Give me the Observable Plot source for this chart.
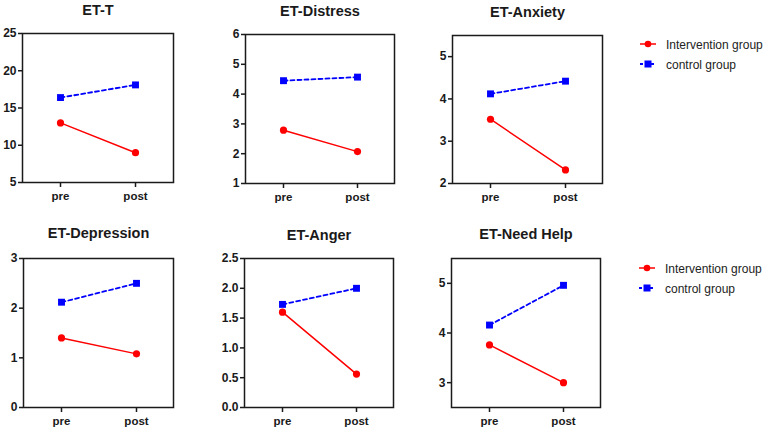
<!DOCTYPE html>
<html><head><meta charset="utf-8">
<script src="https://cdn.jsdelivr.net/npm/d3@7"></script>
<script src="https://cdn.jsdelivr.net/npm/@observablehq/plot@0.6"></script>
<style>
body{margin:0;background:#fff;font-family:Arial,"Liberation Sans",sans-serif}
#wrap{position:relative;width:767px;height:433px;overflow:hidden;background:#fff}
.panel{position:absolute}
.legend{position:absolute;font-size:12px;color:#222;font-family:Arial,"Liberation Sans",sans-serif}
.legend .row{position:absolute;display:flex;align-items:center;white-space:nowrap}
</style></head><body><div id="wrap"></div>
<script>
// ---- data ----
const titles = ["ET-T", "ET-Distress", "ET-Anxiety", "ET-Depression", "ET-Anger", "ET-Need Help"];
const phases = ["pre", "post"];
const groups = ["Intervention group", "control group"];
const interventionValues = [[13.0, 9.0], [2.79, 2.07], [3.52, 2.32], [1.40, 1.08], [1.60, 0.56], [3.76, 3.00]];
const controlValues = [[16.4, 18.1], [4.45, 4.57], [4.12, 4.42], [2.12, 2.50], [1.73, 2.00], [4.16, 4.96]];
const yDomains = [[5, 25], [1, 6], [2, 5.5], [0, 3], [0, 2.5], [2.5, 5.5]];
const yTicks = [[5, 10, 15, 20, 25], [1, 2, 3, 4, 5, 6], [2, 3, 4, 5], [0, 1, 2, 3], [0, 0.5, 1, 1.5, 2, 2.5], [3, 4, 5]];
const tickFormats = [",d", ",d", ",d", ",d", ".1f", ",d"];

// ---- layout (frame edges in page pixels: left, right, top, bottom) ----
const frames = [
  [22, 173, 33, 182], [245, 394, 34, 183], [452, 602, 35, 183],
  [23, 173, 258, 407], [244, 393, 258, 407], [451, 600, 258, 407]
];
const titleDy = [-23, -23, -23, -25, -23, -24];
const ML = 50, MR = 10, MT = 40, MB = 32;

const wrap = document.getElementById("wrap");
const red = "#ff0000", blue = "#0000ff";

titles.forEach((title, i) => {
  const rows = [];
  phases.forEach((p, j) => {
    rows.push({phase: p, value: interventionValues[i][j], group: groups[0]});
    rows.push({phase: p, value: controlValues[i][j], group: groups[1]});
  });
  const inter = rows.filter(d => d.group === groups[0]);
  const ctrl = rows.filter(d => d.group === groups[1]);
  const [l, r, t, b] = frames[i];
  const fmt = d3.format(tickFormats[i]);
  const chart = Plot.plot({
    width: r - l + ML + MR,
    height: b - t + MT + MB,
    marginLeft: ML, marginRight: MR, marginTop: MT, marginBottom: MB,
    style: {fontFamily: "Arial, 'Liberation Sans', sans-serif", fontSize: "11.5px", fontWeight: "bold", color: "#1a1a1a", background: "transparent", overflow: "visible"},
    x: {type: "point", domain: phases, padding: 0.5, label: null},
    y: {domain: yDomains[i], label: null},
    marks: [
      Plot.frame({stroke: "#1a1a1a", strokeWidth: 1.5}),
      Plot.axisY({ticks: yTicks[i], tickFormat: fmt, tickSize: 4, tickPadding: 2, strokeWidth: 1.5, label: null, fontSize: 12}),
      Plot.axisX({tickSize: 5, tickPadding: 4, strokeWidth: 1.5, label: null, fontSize: 11.5}),
      Plot.line(inter, {x: "phase", y: "value", stroke: red, strokeWidth: 1.5}),
      Plot.line(ctrl, {x: "phase", y: "value", stroke: blue, strokeWidth: 1.8, strokeDasharray: "4,3"}),
      Plot.dot(inter, {x: "phase", y: "value", fill: red, r: 3.6, symbol: "circle"}),
      Plot.dot(ctrl, {x: "phase", y: "value", fill: blue, r: 3.9, symbol: "square"}),
      Plot.text([title], {frameAnchor: "top", dy: titleDy[i], text: d => d, fontSize: 14.5, fontWeight: "bold", fill: "#1a1a1a", lineAnchor: "middle"})
    ]
  });
  chart.classList.add("panel");
  chart.style.left = (l - ML) + "px";
  chart.style.top = (t - MT) + "px";
  wrap.appendChild(chart);
});

// ---- legends ----
function icon(color, dashed, square) {
  const ns = "http://www.w3.org/2000/svg";
  const s = document.createElementNS(ns, "svg");
  s.setAttribute("width", 18); s.setAttribute("height", 10);
  const ln = document.createElementNS(ns, "line");
  ln.setAttribute("x1", 1); ln.setAttribute("x2", 17); ln.setAttribute("y1", 5); ln.setAttribute("y2", 5);
  ln.setAttribute("stroke", color); ln.setAttribute("stroke-width", dashed ? 1.8 : 1.5);
  if (dashed) ln.setAttribute("stroke-dasharray", "3,2.5");
  s.appendChild(ln);
  if (square) {
    const rc = document.createElementNS(ns, "rect");
    rc.setAttribute("x", 5.5); rc.setAttribute("y", 1.5); rc.setAttribute("width", 7); rc.setAttribute("height", 7);
    rc.setAttribute("fill", color); s.appendChild(rc);
  } else {
    const c = document.createElementNS(ns, "circle");
    c.setAttribute("cx", 9); c.setAttribute("cy", 5); c.setAttribute("r", 3.3);
    c.setAttribute("fill", color); s.appendChild(c);
  }
  return s;
}
const legendPos = [[639, 45], [638, 269]];
legendPos.forEach(([x, y]) => {
  groups.forEach((g, k) => {
    const row = document.createElement("div");
    row.className = "legend row";
    row.style.left = x + "px";
    row.style.top = (y + k * 20 - 7) + "px";
    row.style.height = "14px";
    row.appendChild(icon(k === 0 ? red : blue, k === 1, k === 1));
    const sp = document.createElement("span");
    sp.textContent = g;
    sp.style.marginLeft = "9px";
    row.appendChild(sp);
    wrap.appendChild(row);
  });
});
</script></body></html>
